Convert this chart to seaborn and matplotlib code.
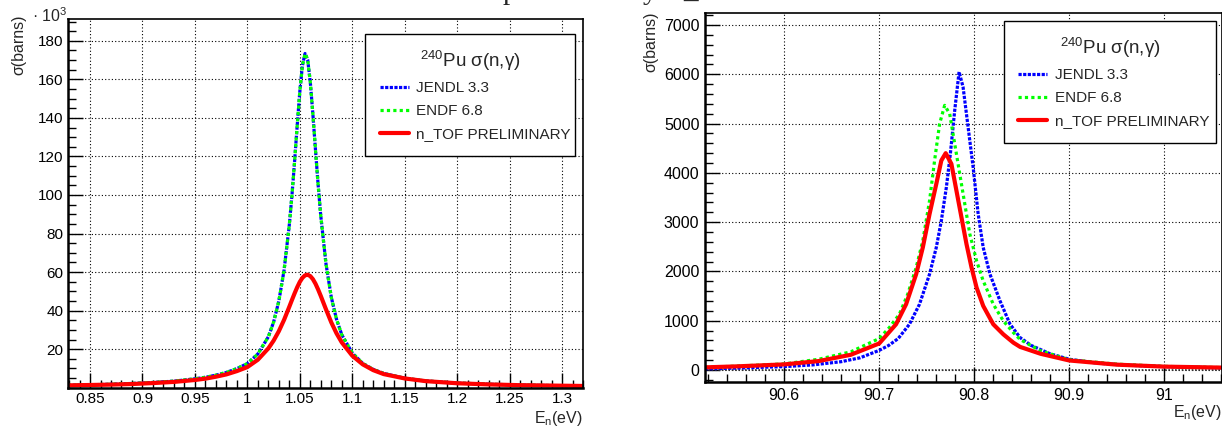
import matplotlib
matplotlib.use("Agg")
import matplotlib.pyplot as plt
import seaborn as sns
from matplotlib.ticker import MultipleLocator, FixedLocator, FuncFormatter

# ---------------- data: 1.056 eV resonance (sigma in 10^3 barns) ----------------
e_low = [0.829, 0.85, 0.87, 0.89, 0.91, 0.93, 0.95, 0.96, 0.97, 0.98, 0.99, 1.00,
         1.01, 1.02, 1.025, 1.03, 1.035, 1.04, 1.0425, 1.045, 1.0475, 1.05, 1.0525,
         1.055, 1.0575, 1.06, 1.0625, 1.065, 1.0675, 1.07, 1.075, 1.08, 1.085, 1.09,
         1.10, 1.11, 1.12, 1.13, 1.15, 1.17, 1.20, 1.23, 1.26, 1.29, 1.32]
jendl_low = [1.3, 1.5, 1.8, 2.2, 2.7, 3.4, 4.6, 5.4, 6.5, 7.9, 9.9, 12.5, 17.5, 26.4,
             34.0, 44.9, 60.9, 84.5, 99.7, 117.2, 135.9, 153.6, 167.2, 173.4, 170.2,
             158.6, 141.7, 123.0, 105.1, 89.1, 64.1, 47.0, 35.5, 27.5, 18.0, 12.6, 9.5,
             7.4, 4.9, 3.5, 2.4, 1.8, 1.4, 1.1, 0.9]
endf_low = [1.3, 1.5, 1.8, 2.2, 2.7, 3.4, 4.6, 5.4, 6.5, 7.9, 9.9, 12.5, 17.5, 26.4,
            34.0, 44.9, 60.9, 84.5, 99.7, 117.2, 135.9, 153.6, 167.2, 173.4, 170.2,
            158.6, 141.7, 123.0, 105.1, 89.1, 64.1, 47.0, 35.5, 27.5, 18.0, 12.6, 9.5,
            7.4, 4.9, 3.5, 2.4, 1.8, 1.4, 1.1, 0.9]
ntof_low = [1.2, 1.4, 1.6, 1.9, 2.4, 3.0, 4.0, 4.7, 5.7, 6.9, 8.6, 10.7, 14.5, 20.4,
            24.4, 29.3, 35.2, 42.0, 45.5, 48.9, 52.1, 54.9, 57.0, 58.3, 58.6, 57.9,
            56.3, 53.9, 50.9, 47.6, 40.6, 33.9, 28.2, 23.5, 16.6, 12.1, 9.1, 7.05, 4.8,
            3.4, 2.3, 1.7, 1.3, 1.1, 0.9]

# ---------------- data: 90.8 eV resonance (sigma in barns) ----------------
e_jendl_high = [90.5165, 90.55, 90.60, 90.63, 90.66, 90.68, 90.70, 90.71, 90.72, 90.7318,
                90.7424, 90.7530, 90.7601, 90.7654, 90.7707, 90.7749, 90.7795, 90.7841,
                90.7883, 90.7936, 90.7989, 90.8042, 90.8095, 90.8166, 90.8272, 90.8378,
                90.8484, 90.86, 90.88, 90.90, 90.93, 90.96, 91.00, 91.061]
jendl_high = [25, 40, 70, 105, 170, 250, 400, 500, 640, 929, 1335, 1946, 2488, 3031, 3708,
              4386, 5268, 6050, 5742, 4929, 4115, 3166, 2488, 1946, 1404, 929, 658, 500,
              330, 220, 140, 100, 70, 45]
e_endf_high = [90.5165, 90.55, 90.60, 90.6364, 90.67, 90.70, 90.7106, 90.7212, 90.730,
               90.7389, 90.7459, 90.7530, 90.7583, 90.7636, 90.7689, 90.7742, 90.7795,
               90.7848, 90.7901, 90.7954, 90.8025, 90.8095, 90.8201, 90.8307, 90.8413,
               90.8484, 90.87, 90.90, 90.95, 91.0, 91.061]
endf_high = [55, 80, 125, 220, 370, 640, 861, 1132, 1539, 2081, 2624, 3437, 4251, 4997,
             5370, 5200, 4590, 3980, 3370, 2760, 2217, 1810, 1336, 997, 759, 620, 390,
             210, 120, 75, 50]
e_ntof_high = [90.5165, 90.55, 90.60, 90.6364, 90.67, 90.70, 90.7177, 90.7283, 90.7389,
               90.7459, 90.7530, 90.7601, 90.7654, 90.7700, 90.7760, 90.7813, 90.7866,
               90.7919, 90.7972, 90.8025, 90.8095, 90.8201, 90.8307, 90.8413, 90.8484,
               90.87, 90.90, 90.95, 91.0, 91.061]
ntof_high = [55, 75, 115, 183, 310, 540, 929, 1336, 1946, 2488, 3166, 3776, 4251, 4400,
             4183, 3641, 3098, 2556, 2081, 1675, 1302, 929, 725, 556, 470, 330, 195,
             110, 70, 50]

series_labels = ["JENDL 3.3", "ENDF 6.8", "n_TOF PRELIMINARY"]
legend_title = r"$^{240}$Pu σ(n,γ)"
low_yticks = [20, 40, 60, 80, 100, 120, 140, 160, 180]

# ---------------- style ----------------
sns.set_theme(style="white")
plt.rcParams["font.family"] = ["Liberation Sans", "DejaVu Sans"]
plt.rcParams["mathtext.fontset"] = "custom"
plt.rcParams["mathtext.rm"] = "Liberation Sans"
plt.rcParams["mathtext.it"] = "Liberation Sans:italic"
plt.rcParams["mathtext.bf"] = "Liberation Sans:bold"

W, H = 1222, 429
fig = plt.figure(figsize=(W / 100, H / 100), dpi=100)
fig.patch.set_facecolor("white")


def px_axes(l, t, r, b):
    return fig.add_axes([l / W, 1 - b / H, (r - l) / W, (b - t) / H])


axL = px_axes(68, 19, 583, 387.5)
axR = px_axes(705, 13.3, 1222, 381.7)

BLUE, GREEN, RED = "#0000ff", "#00ff00", "#ff0000"
fmt = FuncFormatter(lambda v, p: "%g" % round(v, 4))


def style(ax, fs, xpad, ypad):
    ax.set_facecolor("white")
    for s in ax.spines.values():
        s.set_visible(True)
        s.set_color("black")
        s.set_linewidth(1.2)
    ax.spines["left"].set_linewidth(1.8)
    ax.spines["bottom"].set_linewidth(1.8)
    ax.tick_params(which="both", direction="in", top=False, right=False,
                   left=True, bottom=True, colors="black", width=1.0)
    ax.tick_params(which="major", length=11, labelsize=fs)
    ax.tick_params(which="minor", length=5.5)
    ax.tick_params(axis="x", pad=xpad)
    ax.tick_params(axis="y", pad=ypad)
    ax.grid(True, which="major", color="black", linestyle=(0, (1, 2)), linewidth=0.8)
    ax.grid(False, which="minor")
    ax.set_axisbelow(True)
    ax.xaxis.set_major_formatter(fmt)
    ax.yaxis.set_major_formatter(fmt)
    ax.set_xlabel("")
    ax.set_ylabel("")


def draw(ax, xb, yb, xg, yg, xr, yr):
    sns.lineplot(x=xb, y=yb, ax=ax, color=BLUE, linewidth=2.3,
                 linestyle=(0, (1, 0.45)), label=series_labels[0], solid_capstyle="butt")
    sns.lineplot(x=xg, y=yg, ax=ax, color=GREEN, linewidth=2.3,
                 linestyle=(0, (1, 1)), label=series_labels[1])
    sns.lineplot(x=xr, y=yr, ax=ax, color=RED, linewidth=3.0,
                 linestyle="-", label=series_labels[2])


draw(axL, e_low, jendl_low, e_low, endf_low, e_low, ntof_low)
draw(axR, e_jendl_high, jendl_high, e_endf_high, endf_high, e_ntof_high, ntof_high)

# left axes
axL.set_xlim(0.829, 1.320)
axL.set_ylim(0.1, 191.3)
style(axL, 11, 3.5, 3.5)
axL.xaxis.set_major_locator(MultipleLocator(0.05))
axL.xaxis.set_minor_locator(MultipleLocator(0.01))
axL.yaxis.set_major_locator(FixedLocator(low_yticks))
axL.yaxis.set_minor_locator(MultipleLocator(5))

# right axes
axR.set_xlim(90.5165, 91.061)
axR.set_ylim(-236, 7238)
style(axR, 11.5, 4.5, 4.0)
axR.xaxis.set_major_locator(MultipleLocator(0.1))
axR.xaxis.set_minor_locator(MultipleLocator(0.02))
axR.yaxis.set_major_locator(MultipleLocator(1000))
axR.yaxis.set_minor_locator(MultipleLocator(200))
axR.axhline(0, color="#333333", linewidth=1.2, linestyle=(0, (1, 1)), zorder=1)


def legend(ax, x0, y1, w):
    h, l = ax.get_legend_handles_labels()
    leg = ax.legend(h, l, title=legend_title, loc="upper left",
                    bbox_to_anchor=(x0, y1, w, 0), mode="expand", frameon=True,
                    fancybox=False, edgecolor="black", framealpha=1, fontsize=11,
                    title_fontsize=13.5, handlelength=1.9, handletextpad=0.5,
                    borderpad=0.95, labelspacing=0.58, borderaxespad=0)
    leg.get_frame().set_linewidth(1.0)
    leg.get_title().set_ha("center")
    leg._legend_box.align = "center"
    return leg


legend(axL, (365 - 68) / 515, (387.5 - 34) / 368.5, (575 - 365) / 515)
legend(axR, (1003.7 - 705) / 517, (381.7 - 21) / 368.4, (1216 - 1003.7) / 517)

# axis titles (ROOT style)
fig.text(19 / W, 1 - 45 / H, "σ(barns)", rotation=90, ha="center", va="center", fontsize=11.5)
fig.text(651 / W, 1 - 42 / H, "σ(barns)", rotation=90, ha="center", va="center", fontsize=11.5)
fig.text(67 / W, 1 - 21.5 / H, "\u00b7 10$^{3}$", ha="right", va="baseline", fontsize=11.5)
axL.text(1.0, -31.5 / 368.5, r"E$_{\mathrm{n}}$(eV)", transform=axL.transAxes,
         ha="right", va="center", fontsize=11.5)
axR.text(1.0, -31.3 / 368.4, r"E$_{\mathrm{n}}$(eV)", transform=axR.transAxes,
         ha="right", va="center", fontsize=11.5)

# descenders of the cropped page caption above the plots (cut in the reference too)
for xp, s in [(503, "p"), (643, "y"), (683, "_")]:
    fig.text(xp / W, 1 + 1.0 / H, s, ha="left", va="baseline", fontsize=21,
             family="Liberation Serif")

fig.savefig("out.png", dpi=100, facecolor="white")
